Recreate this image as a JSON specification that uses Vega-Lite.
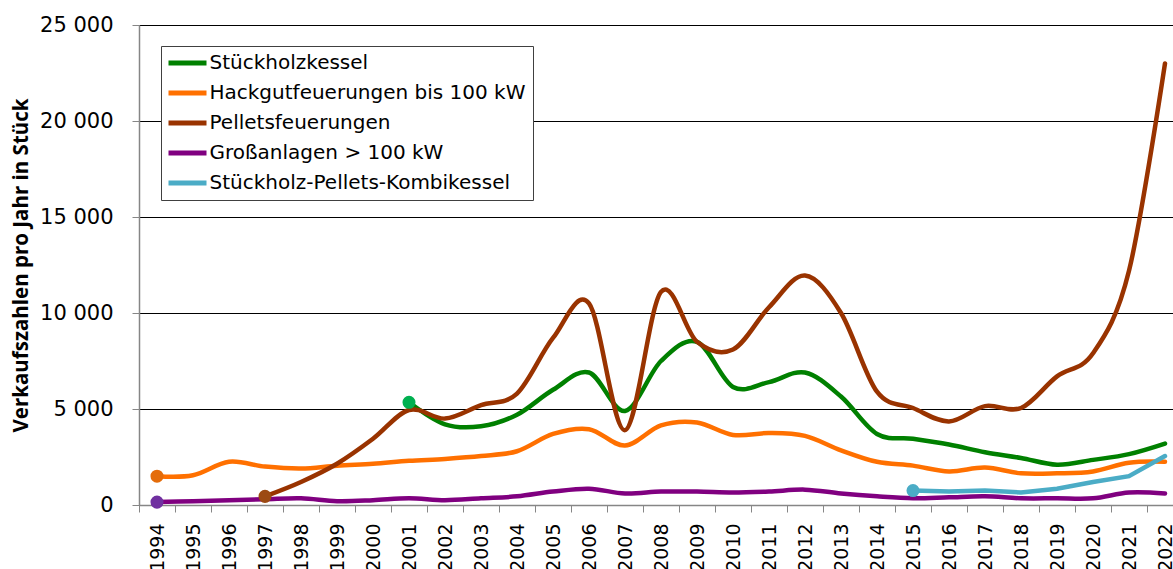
{
  "$schema": "https://vega.github.io/schema/vega-lite/v6.json",
  "autosize": {"type": "none"},
  "padding": {"left": 139, "top": 25, "right": 0, "bottom": 64},
  "width": 1034,
  "height": 480,
  "background": "white",
  "config": {
    "font": "DejaVu Sans",
    "view": {"stroke": null}
  },
  "data": {
    "values": [
      {"year": 2001, "series": "Stückholzkessel", "value": 5350},
      {"year": 2002, "series": "Stückholzkessel", "value": 4200},
      {"year": 2003, "series": "Stückholzkessel", "value": 4100},
      {"year": 2004, "series": "Stückholzkessel", "value": 4700},
      {"year": 2005, "series": "Stückholzkessel", "value": 6000},
      {"year": 2006, "series": "Stückholzkessel", "value": 6900},
      {"year": 2007, "series": "Stückholzkessel", "value": 4900},
      {"year": 2008, "series": "Stückholzkessel", "value": 7500},
      {"year": 2009, "series": "Stückholzkessel", "value": 8500},
      {"year": 2010, "series": "Stückholzkessel", "value": 6150},
      {"year": 2011, "series": "Stückholzkessel", "value": 6400},
      {"year": 2012, "series": "Stückholzkessel", "value": 6900},
      {"year": 2013, "series": "Stückholzkessel", "value": 5650},
      {"year": 2014, "series": "Stückholzkessel", "value": 3700},
      {"year": 2015, "series": "Stückholzkessel", "value": 3450},
      {"year": 2016, "series": "Stückholzkessel", "value": 3150},
      {"year": 2017, "series": "Stückholzkessel", "value": 2750},
      {"year": 2018, "series": "Stückholzkessel", "value": 2450},
      {"year": 2019, "series": "Stückholzkessel", "value": 2100},
      {"year": 2020, "series": "Stückholzkessel", "value": 2350},
      {"year": 2021, "series": "Stückholzkessel", "value": 2650},
      {"year": 2022, "series": "Stückholzkessel", "value": 3200},
      {"year": 1994, "series": "Hackgutfeuerungen bis 100 kW", "value": 1500},
      {"year": 1995, "series": "Hackgutfeuerungen bis 100 kW", "value": 1550},
      {"year": 1996, "series": "Hackgutfeuerungen bis 100 kW", "value": 2250},
      {"year": 1997, "series": "Hackgutfeuerungen bis 100 kW", "value": 2000},
      {"year": 1998, "series": "Hackgutfeuerungen bis 100 kW", "value": 1900},
      {"year": 1999, "series": "Hackgutfeuerungen bis 100 kW", "value": 2050},
      {"year": 2000, "series": "Hackgutfeuerungen bis 100 kW", "value": 2150},
      {"year": 2001, "series": "Hackgutfeuerungen bis 100 kW", "value": 2300},
      {"year": 2002, "series": "Hackgutfeuerungen bis 100 kW", "value": 2400},
      {"year": 2003, "series": "Hackgutfeuerungen bis 100 kW", "value": 2550},
      {"year": 2004, "series": "Hackgutfeuerungen bis 100 kW", "value": 2800},
      {"year": 2005, "series": "Hackgutfeuerungen bis 100 kW", "value": 3700},
      {"year": 2006, "series": "Hackgutfeuerungen bis 100 kW", "value": 3950},
      {"year": 2007, "series": "Hackgutfeuerungen bis 100 kW", "value": 3100},
      {"year": 2008, "series": "Hackgutfeuerungen bis 100 kW", "value": 4150},
      {"year": 2009, "series": "Hackgutfeuerungen bis 100 kW", "value": 4300},
      {"year": 2010, "series": "Hackgutfeuerungen bis 100 kW", "value": 3650},
      {"year": 2011, "series": "Hackgutfeuerungen bis 100 kW", "value": 3750},
      {"year": 2012, "series": "Hackgutfeuerungen bis 100 kW", "value": 3600},
      {"year": 2013, "series": "Hackgutfeuerungen bis 100 kW", "value": 2850},
      {"year": 2014, "series": "Hackgutfeuerungen bis 100 kW", "value": 2250},
      {"year": 2015, "series": "Hackgutfeuerungen bis 100 kW", "value": 2050},
      {"year": 2016, "series": "Hackgutfeuerungen bis 100 kW", "value": 1750},
      {"year": 2017, "series": "Hackgutfeuerungen bis 100 kW", "value": 1950},
      {"year": 2018, "series": "Hackgutfeuerungen bis 100 kW", "value": 1650},
      {"year": 2019, "series": "Hackgutfeuerungen bis 100 kW", "value": 1650},
      {"year": 2020, "series": "Hackgutfeuerungen bis 100 kW", "value": 1750},
      {"year": 2021, "series": "Hackgutfeuerungen bis 100 kW", "value": 2200},
      {"year": 2022, "series": "Hackgutfeuerungen bis 100 kW", "value": 2250},
      {"year": 1997, "series": "Pelletsfeuerungen", "value": 450},
      {"year": 1998, "series": "Pelletsfeuerungen", "value": 1200},
      {"year": 1999, "series": "Pelletsfeuerungen", "value": 2150},
      {"year": 2000, "series": "Pelletsfeuerungen", "value": 3450},
      {"year": 2001, "series": "Pelletsfeuerungen", "value": 4950},
      {"year": 2002, "series": "Pelletsfeuerungen", "value": 4500},
      {"year": 2003, "series": "Pelletsfeuerungen", "value": 5200},
      {"year": 2004, "series": "Pelletsfeuerungen", "value": 5800},
      {"year": 2005, "series": "Pelletsfeuerungen", "value": 8700},
      {"year": 2006, "series": "Pelletsfeuerungen", "value": 10500},
      {"year": 2007, "series": "Pelletsfeuerungen", "value": 3900},
      {"year": 2008, "series": "Pelletsfeuerungen", "value": 11100},
      {"year": 2009, "series": "Pelletsfeuerungen", "value": 8500},
      {"year": 2010, "series": "Pelletsfeuerungen", "value": 8100},
      {"year": 2011, "series": "Pelletsfeuerungen", "value": 10300},
      {"year": 2012, "series": "Pelletsfeuerungen", "value": 11950},
      {"year": 2013, "series": "Pelletsfeuerungen", "value": 10000},
      {"year": 2014, "series": "Pelletsfeuerungen", "value": 5900},
      {"year": 2015, "series": "Pelletsfeuerungen", "value": 5050},
      {"year": 2016, "series": "Pelletsfeuerungen", "value": 4350},
      {"year": 2017, "series": "Pelletsfeuerungen", "value": 5150},
      {"year": 2018, "series": "Pelletsfeuerungen", "value": 5050},
      {"year": 2019, "series": "Pelletsfeuerungen", "value": 6700},
      {"year": 2020, "series": "Pelletsfeuerungen", "value": 7900},
      {"year": 2021, "series": "Pelletsfeuerungen", "value": 12200},
      {"year": 2022, "series": "Pelletsfeuerungen", "value": 23000},
      {"year": 1994, "series": "Großanlagen > 100 kW", "value": 150},
      {"year": 1995, "series": "Großanlagen > 100 kW", "value": 200},
      {"year": 1996, "series": "Großanlagen > 100 kW", "value": 250},
      {"year": 1997, "series": "Großanlagen > 100 kW", "value": 300},
      {"year": 1998, "series": "Großanlagen > 100 kW", "value": 350},
      {"year": 1999, "series": "Großanlagen > 100 kW", "value": 200},
      {"year": 2000, "series": "Großanlagen > 100 kW", "value": 250},
      {"year": 2001, "series": "Großanlagen > 100 kW", "value": 350},
      {"year": 2002, "series": "Großanlagen > 100 kW", "value": 250},
      {"year": 2003, "series": "Großanlagen > 100 kW", "value": 350},
      {"year": 2004, "series": "Großanlagen > 100 kW", "value": 450},
      {"year": 2005, "series": "Großanlagen > 100 kW", "value": 700},
      {"year": 2006, "series": "Großanlagen > 100 kW", "value": 850},
      {"year": 2007, "series": "Großanlagen > 100 kW", "value": 600},
      {"year": 2008, "series": "Großanlagen > 100 kW", "value": 700},
      {"year": 2009, "series": "Großanlagen > 100 kW", "value": 700},
      {"year": 2010, "series": "Großanlagen > 100 kW", "value": 650},
      {"year": 2011, "series": "Großanlagen > 100 kW", "value": 700},
      {"year": 2012, "series": "Großanlagen > 100 kW", "value": 800},
      {"year": 2013, "series": "Großanlagen > 100 kW", "value": 600},
      {"year": 2014, "series": "Großanlagen > 100 kW", "value": 450},
      {"year": 2015, "series": "Großanlagen > 100 kW", "value": 350},
      {"year": 2016, "series": "Großanlagen > 100 kW", "value": 400},
      {"year": 2017, "series": "Großanlagen > 100 kW", "value": 450},
      {"year": 2018, "series": "Großanlagen > 100 kW", "value": 350},
      {"year": 2019, "series": "Großanlagen > 100 kW", "value": 350},
      {"year": 2020, "series": "Großanlagen > 100 kW", "value": 350},
      {"year": 2021, "series": "Großanlagen > 100 kW", "value": 650},
      {"year": 2022, "series": "Großanlagen > 100 kW", "value": 600},
      {"year": 2015, "series": "Stückholz-Pellets-Kombikessel", "value": 750},
      {"year": 2016, "series": "Stückholz-Pellets-Kombikessel", "value": 700},
      {"year": 2017, "series": "Stückholz-Pellets-Kombikessel", "value": 750},
      {"year": 2018, "series": "Stückholz-Pellets-Kombikessel", "value": 650},
      {"year": 2019, "series": "Stückholz-Pellets-Kombikessel", "value": 850},
      {"year": 2020, "series": "Stückholz-Pellets-Kombikessel", "value": 1200},
      {"year": 2021, "series": "Stückholz-Pellets-Kombikessel", "value": 1500},
      {"year": 2022, "series": "Stückholz-Pellets-Kombikessel", "value": 2550}
    ]
  },
  "encoding": {
    "x": {
      "field": "year",
      "type": "ordinal",
      "scale": {"range": [0, 1044], "paddingInner": 0, "paddingOuter": 0},
      "axis": {
        "title": null,
        "labelAngle": -90,
        "labelAlign": "right",
        "labelBaseline": "middle",
        "labelFont": "DejaVu Sans",
        "labelFontSize": 19,
        "labelColor": "#000000",
        "labelPadding": 11,
        "tickBand": "extent",
        "tickSize": 7,
        "tickColor": "#868686",
        "domainColor": "#868686",
        "domainWidth": 1.5,
        "labelOverlap": false
      }
    },
    "y": {
      "field": "value",
      "type": "quantitative",
      "scale": {"domain": [0, 25000], "nice": false},
      "axis": {
        "title": "Verkaufszahlen pro Jahr in Stück",
        "titleFont": "Open Sans",
        "titleFontSize": 20.5,
        "titleFontWeight": "bold",
        "titleColor": "#000000",
        "titleX": -118,
        "titleBaseline": "middle",
        "values": [0, 5000, 10000, 15000, 20000, 25000],
        "labelExpr": "replace(format(datum.value, ','), ',', ' ')",
        "labelFont": "DejaVu Sans",
        "labelFontSize": 21,
        "labelColor": "#000000",
        "labelPadding": 19,
        "tickSize": 7,
        "tickColor": "#868686",
        "domainColor": "#868686",
        "domainWidth": 1.5,
        "grid": true,
        "gridColor": "#000000",
        "gridWidth": 1
      }
    }
  },
  "layer": [
    {
      "transform": [{"filter": "datum.series !== 'Stückholz-Pellets-Kombikessel'"}],
      "mark": {"type": "line", "interpolate": "cardinal", "strokeWidth": 4.5, "strokeCap": "round"},
      "encoding": {
        "stroke": {
          "field": "series",
          "type": "nominal",
          "sort": null,
          "scale": {
            "domain": ["Stückholzkessel", "Hackgutfeuerungen bis 100 kW", "Pelletsfeuerungen", "Großanlagen > 100 kW", "Stückholz-Pellets-Kombikessel"],
            "range": ["#008000", "#ff7000", "#993300", "#800080", "#4bacc6"]
          },
          "legend": {
            "title": null,
            "orient": "none",
            "legendX": 22,
            "legendY": 21,
            "direction": "vertical",
            "symbolType": "M-3.8,0H3.8",
            "symbolStrokeWidth": 5,
            "symbolSize": 100,
            "symbolOffset": 9.5,
            "labelFont": "DejaVu Sans",
            "labelFontSize": 20,
            "labelColor": "#000000",
            "labelOffset": 12,
            "labelLimit": 500,
            "rowPadding": 10,
            "padding": 7,
            "strokeColor": "#404040",
            "fillColor": "#ffffff",
            "offset": 0
          }
        },
        "order": {"field": "year", "type": "quantitative"}
      }
    },
    {
      "transform": [{"filter": "datum.series === 'Stückholz-Pellets-Kombikessel'"}],
      "mark": {"type": "line", "interpolate": "linear", "strokeWidth": 4.5, "strokeCap": "round"},
      "encoding": {
        "stroke": {"field": "series", "type": "nominal", "legend": null}
      }
    },
    {
      "transform": [
        {"joinaggregate": [{"op": "min", "field": "year", "as": "firstYear"}], "groupby": ["series"]},
        {"filter": "datum.year === datum.firstYear"}
      ],
      "mark": {"type": "point", "filled": true, "size": 170, "opacity": 1},
      "encoding": {
        "fill": {
          "field": "series",
          "type": "nominal",
          "scale": {
            "domain": ["Stückholzkessel", "Hackgutfeuerungen bis 100 kW", "Pelletsfeuerungen", "Großanlagen > 100 kW", "Stückholz-Pellets-Kombikessel"],
            "range": ["#00b050", "#e46c0a", "#9c4a12", "#7030a0", "#4bacc6"]
          },
          "legend": null
        }
      }
    }
  ]
}
